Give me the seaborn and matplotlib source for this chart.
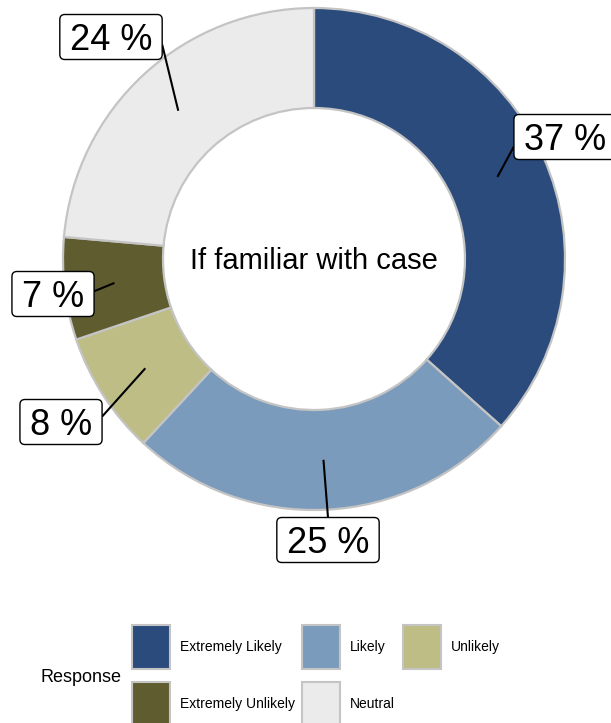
import matplotlib
matplotlib.use("Agg")
import numpy as np
import seaborn as sns
import matplotlib.pyplot as plt
from matplotlib.patches import FancyBboxPatch, Rectangle

# data
responses = ["Extremely Likely", "Likely", "Unlikely", "Extremely Unlikely", "Neutral"]
shares = [36.6, 25.3, 7.9, 6.6, 23.6]
labels = ["37 %", "25 %", "8 %", "7 %", "24 %"]
colors = ["#2a4b7c", "#7b9bbc", "#bebd85", "#5f5d2f", "#eaebea"]

sns.set_theme(style="white")
plt.rcParams["font.family"] = ["Liberation Sans", "DejaVu Sans"]
plt.rcParams["text.color"] = "black"

W, H = 611, 723
fig = plt.figure(figsize=(W / 100, H / 100), dpi=100)
ax = fig.add_axes([0, 0, 1, 1])

cx, cy, R = 314, H - 259, 251
ring = 100
ax.pie(shares, colors=colors, startangle=90, counterclock=False,
       center=(cx, cy), radius=R, frame=True,
       wedgeprops=dict(width=ring, edgecolor="#c4c4c4", linewidth=1.6))
ax.set_xlim(0, W)
ax.set_ylim(0, H)
ax.set_aspect("equal")
ax.axis("off")

ax.text(cx, H - 261, "If familiar with case", fontsize=21, ha="center", va="center")

# repel-style label boxes: centre (px from top-left) and where the leader meets the box
label_pos = [(565, 137), (328, 540), (61, 422), (53, 294), (111, 37)]
leader_rel = [(0, 0.29), (0.5, 1.0), (1, 0.62), (1, 0.56), (1, 0.33)]
renderer = fig.canvas.get_renderer()
cum = np.cumsum([0] + shares[:-1])
rmid = R - ring / 2
box_h = 45
for i, lab in enumerate(labels):
    lx, ly = label_pos[i]
    ly = H - ly
    t = ax.text(lx, ly - 13, lab, fontsize=26, ha="center", va="baseline", zorder=5)
    tw = t.get_window_extent(renderer).width
    bw = tw + 20
    x0, y0 = lx - bw / 2, ly - box_h / 2
    ax.add_patch(FancyBboxPatch((x0, y0), bw, box_h,
                                boxstyle="round,pad=0,rounding_size=5",
                                fc="white", ec="black", lw=1.0, zorder=4))
    mid = (cum[i] + shares[i] / 2) / 100 * 2 * np.pi
    px, py = cx + rmid * np.sin(mid), cy + rmid * np.cos(mid)
    ex, ey = x0 + leader_rel[i][0] * bw, y0 + leader_rel[i][1] * box_h
    ax.plot([px, ex], [py, ey], color="black", lw=1.5, zorder=3,
            solid_capstyle="butt")

# legend, drawn by hand (ggplot style, title on the left)
order = [0, 1, 2, 3, 4]
col_x = [132, 302, 403, 132, 302]
row_y = [625, 625, 625, 682, 682]
for i in order:
    kx, ky = col_x[i], H - row_y[i]
    ax.add_patch(Rectangle((kx, ky - 44), 38, 44, fc=colors[i], ec="#c4c4c4",
                           lw=1.5, clip_on=False))
    ax.text(kx + 48, ky - 22, responses[i], fontsize=10, ha="left", va="center")
ax.text(40, H - 677, "Response", fontsize=13, ha="left", va="center")

plt.savefig("out.png", dpi=100)
